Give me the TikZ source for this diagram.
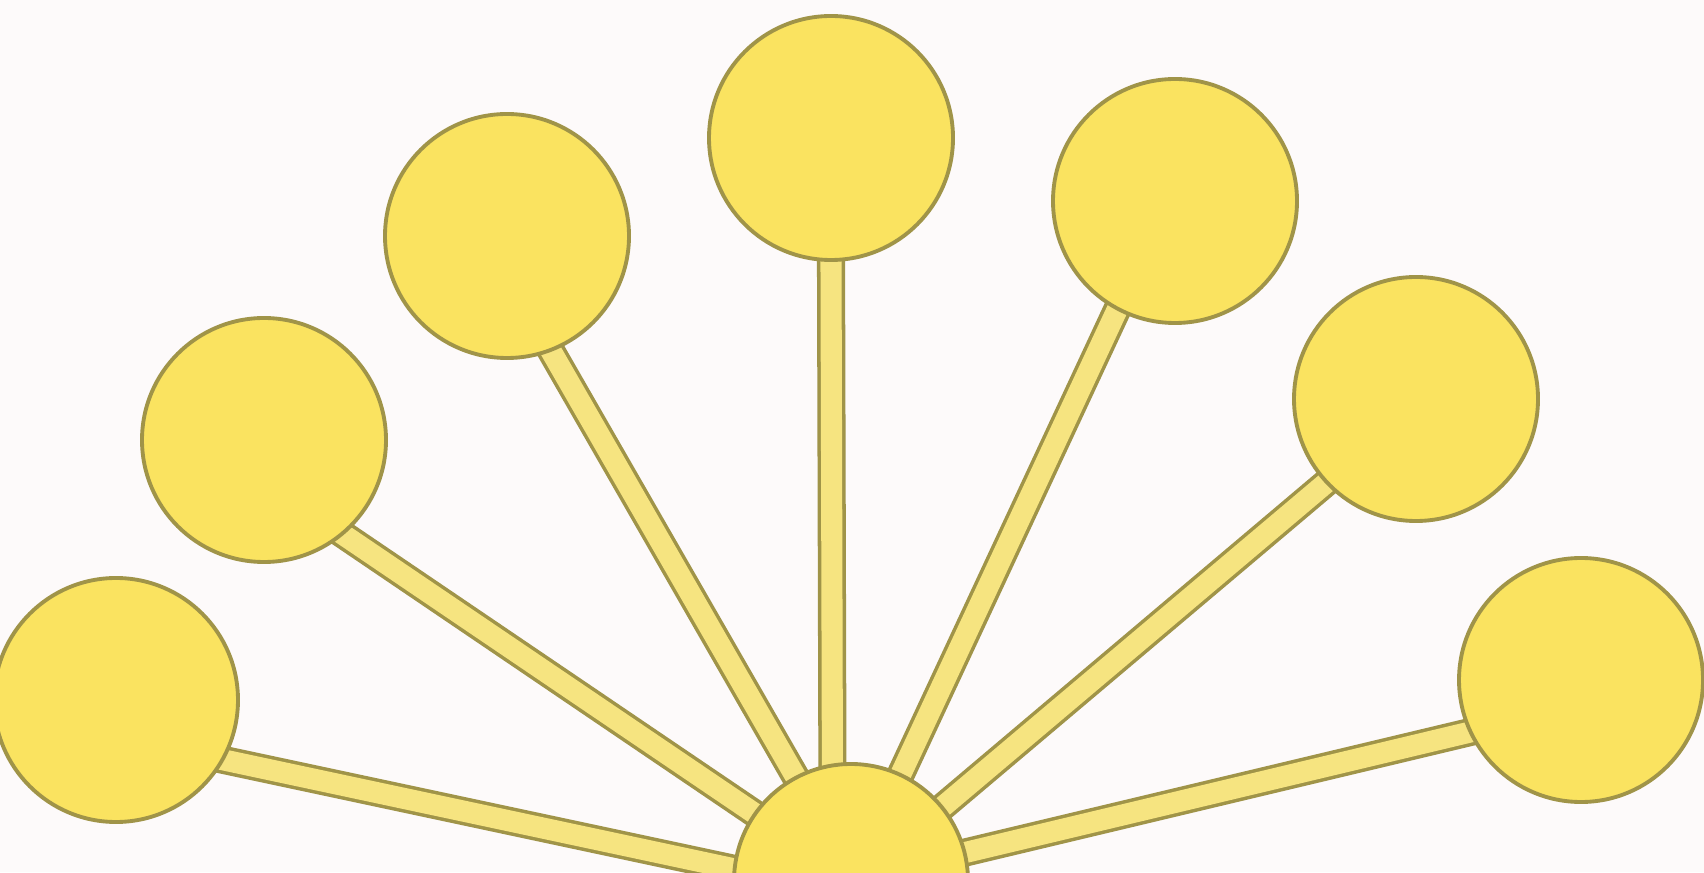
\documentclass[tikz,border=0pt]{standalone}
\usepackage{tikz}
\usetikzlibrary{backgrounds, calc}
\definecolor{sunfill}{RGB}{250,227,96}
\definecolor{stickfill}{RGB}{246,228,128}
\definecolor{rimline}{RGB}{160,148,72}
\definecolor{paper}{RGB}{253,250,250}
\tikzset{
  ball/.style={circle, draw=rimline, line width=1.1pt, fill=sunfill, inner sep=0pt, minimum size=2.44cm},
  stick/.style={draw=rimline, line width=1pt, double=stickfill, double distance=6pt}
}

\begin{document}
\begin{tikzpicture}
  \useasboundingbox (0,0) rectangle (17.04,8.72);
  % hub at the bottom, cut by the page edge
  \node[ball, minimum size=2.34cm] (hub) at (8.51,-0.09) {};
  \foreach \n/\x/\y in {farleft/1.16/1.72, midleft/2.64/4.32, nearleft/5.07/6.36, top/8.31/7.34,
                        nearright/11.75/6.71, midright/14.16/4.73, farright/15.81/1.92} {
    \node[ball] (\n) at (\x,\y) {};
  }
  \begin{pgfonlayer}{background}
    \fill[paper] (0,0) rectangle (17.04,8.72);
    % stick ends: angle on the ball / angle on the hub
    \foreach \n/\a/\b in {farleft/-29/174, midleft/-50/145, nearleft/-69/118, top/-90/99,
                          nearright/-118/65, midright/-137/39, farright/-155/14} {
      \draw[stick] ($(\n.\a)!-0.3cm!(hub.\b)$) -- ($(hub.\b)!-0.3cm!(\n.\a)$);
    }
  \end{pgfonlayer}
\end{tikzpicture}
\end{document}
